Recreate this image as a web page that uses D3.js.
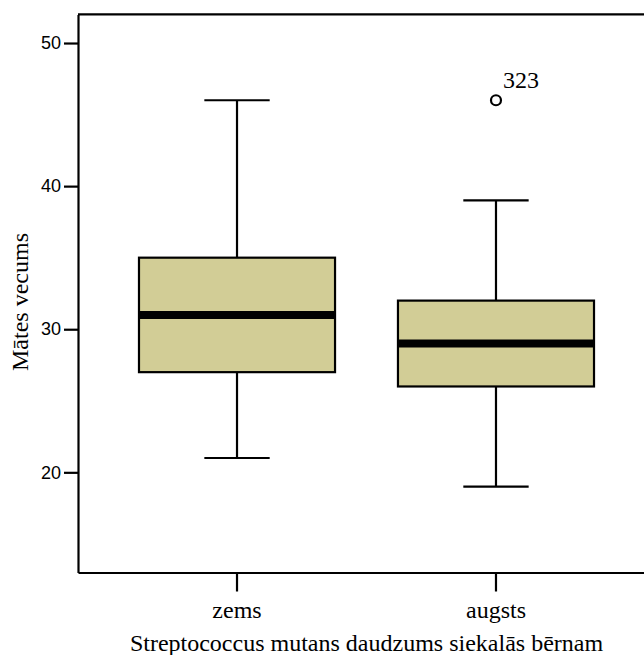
<!DOCTYPE html>
<html><head><meta charset="utf-8">
<script src="https://cdn.jsdelivr.net/npm/d3@7"></script>
<style>body{margin:0;background:#fff}svg{display:block}</style>
</head><body>
<script>
const categories = ["zems", "augsts"];
const q1 = [27, 26];
const median = [31, 29];
const q3 = [35, 32];
const whiskerLow = [21, 19];
const whiskerHigh = [46, 39];
const outlierCat = ["augsts"];
const outlierVal = [46];
const outlierLabel = ["323"];
const yTicks = [20, 30, 40, 50];

const W = 644, H = 655;
const svg = d3.select("body").append("svg").attr("width", W).attr("height", H);

const x = d3.scaleBand().domain(categories).range([78, 655]).paddingInner(0.243).paddingOuter(0.2355);
const y = d3.scaleLinear().domain([13, 52]).range([572.5, 14.4]);

const serif = "'Liberation Serif','Times New Roman',serif";
const sans = "'Liberation Sans',Arial,sans-serif";

// frame: top line and left/bottom axes
svg.append("line").attr("x1", 78).attr("x2", W).attr("y1", y(52)).attr("y2", y(52))
  .attr("stroke", "#000").attr("stroke-width", 2.2);

const yAxis = svg.append("g").attr("transform", "translate(78,0)")
  .call(d3.axisLeft(y).tickValues(yTicks).tickSize(14).tickSizeOuter(0).tickPadding(3).tickFormat(d3.format("d")));
yAxis.select(".domain").attr("stroke-width", 2.2);
yAxis.selectAll(".tick line").attr("stroke-width", 2.2);
yAxis.selectAll(".tick text").attr("font-family", sans).attr("font-size", 18).attr("fill", "#000");

const xAxis = svg.append("g").attr("transform", `translate(0,${y(13)})`)
  .call(d3.axisBottom(x).tickSize(19).tickPadding(0).tickSizeOuter(0));
xAxis.select(".domain").attr("stroke-width", 2.2);
xAxis.selectAll(".tick line").attr("stroke-width", 2.2);
xAxis.selectAll(".tick text").attr("font-family", serif).attr("font-size", 24).attr("fill", "#000")
  .attr("dy", null).attr("y", 45);

const bw = x.bandwidth();
const capW = bw / 3;
const g = svg.append("g");
categories.forEach((c, i) => {
  const cx = x(c) + bw / 2;
  // whiskers
  g.append("line").attr("x1", cx).attr("x2", cx).attr("y1", y(q3[i])).attr("y2", y(whiskerHigh[i]))
    .attr("stroke", "#000").attr("stroke-width", 2.2);
  g.append("line").attr("x1", cx).attr("x2", cx).attr("y1", y(q1[i])).attr("y2", y(whiskerLow[i]))
    .attr("stroke", "#000").attr("stroke-width", 2.2);
  g.append("line").attr("x1", cx - capW / 2).attr("x2", cx + capW / 2).attr("y1", y(whiskerHigh[i])).attr("y2", y(whiskerHigh[i]))
    .attr("stroke", "#000").attr("stroke-width", 2.2);
  g.append("line").attr("x1", cx - capW / 2).attr("x2", cx + capW / 2).attr("y1", y(whiskerLow[i])).attr("y2", y(whiskerLow[i]))
    .attr("stroke", "#000").attr("stroke-width", 2.2);
  // box
  g.append("rect").attr("x", x(c)).attr("width", bw).attr("y", y(q3[i])).attr("height", y(q1[i]) - y(q3[i]))
    .attr("fill", "#d2cd96").attr("stroke", "#000").attr("stroke-width", 2.2);
  // median
  g.append("line").attr("x1", x(c)).attr("x2", x(c) + bw).attr("y1", y(median[i])).attr("y2", y(median[i]))
    .attr("stroke", "#000").attr("stroke-width", 8);
});

outlierCat.forEach((c, i) => {
  const cx = x(c) + bw / 2;
  g.append("circle").attr("cx", cx).attr("cy", y(outlierVal[i])).attr("r", 5)
    .attr("fill", "#fff").attr("stroke", "#000").attr("stroke-width", 2.2);
  g.append("text").attr("x", cx + 7).attr("y", y(outlierVal[i]) - 12).text(outlierLabel[i])
    .attr("font-family", serif).attr("font-size", 24).attr("fill", "#000");
});

// axis titles
svg.append("text").attr("x", x("zems") + bw / 2 + (x("augsts") - x("zems")) / 2).attr("y", 651)
  .attr("text-anchor", "middle").attr("font-family", serif).attr("font-size", 24).attr("fill", "#000")
  .text("Streptococcus mutans daudzums siekalās bērnam");
svg.append("text").attr("transform", "translate(28,302) rotate(-90)")
  .attr("text-anchor", "middle").attr("font-family", serif).attr("font-size", 24).attr("fill", "#000")
  .text("Mātes vecums");
</script>
</body></html>
